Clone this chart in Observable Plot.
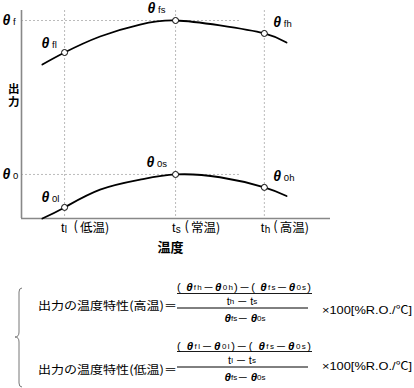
<!DOCTYPE html>
<html><head><meta charset="utf-8">
<script src="https://cdn.jsdelivr.net/npm/d3@7"></script>
<script src="https://cdn.jsdelivr.net/npm/@observablehq/plot@0.6"></script>
<style>
html,body{margin:0;padding:0;background:#fff;}
#wrap{position:relative;width:414px;height:388px;overflow:hidden;background:#fff;}
#chart{position:absolute;left:0;top:0;}
#formula{position:absolute;left:0;top:0;}
</style></head><body>
<div id="wrap"><div id="chart"></div><svg id="formula" width="414" height="388"></svg></div>
<script>
// ---- data ----
const tempValues = [-25, 25, 65];          // tl, ts, th (temperature units)
const tempSubs = ["l", "s", "h"];
const tempNames = ["低温", "常温", "高温"];
const curveX = [-35, -25, -9, 9, 25, 45, 65, 75];
const fullScaleOut = [171.4, 179.2, 189.6, 197.4, 200, 196.8, 191.6, 185.7];
const zeroOut = [71.4, 78.6, 90.1, 96.6, 100, 98.2, 91.6, 86];
const fullSubs = ["fl", "fs", "fh"];
const zeroSubs = ["0l", "0s", "0h"];
const axisSubs = ["f", "0"];
const xLabel = "温度";
const yLabel = ["出", "力"];
const formulaLabels = ["出力の温度特性(高温)＝", "出力の温度特性(低温)＝"];
const numerSubs = [["fh", "0h"], ["fl", "0l"]];
const diffSubs = ["h", "l"];
const unitText = "×100[%R.O./℃]";

// ---- build ----
const xDomain = [-44.4, 94.8];
const yDomain = [71.4, 206.5];
const upper = curveX.map((x, i) => ({x, y: fullScaleOut[i]}));
const lower = curveX.map((x, i) => ({x, y: zeroOut[i]}));
const upperPts = upper.filter(d => tempValues.includes(d.x));
const lowerPts = lower.filter(d => tempValues.includes(d.x));
const thetaY = [upperPts[1].y, lowerPts[1].y];
const LAT = "Liberation Sans, Arial, sans-serif";
const CJK = "Noto Sans CJK JP, sans-serif";

function thetaMarks(pts, subs, idx, dx, dy) {
  const d = [{...pts[idx], s: subs[idx]}];
  return [
    Plot.text(d, {x: "x", y: "y", text: () => "θ", dx, dy, textAnchor: "start",
      fontSize: 14, fontWeight: "bold", fontStyle: "italic", fontFamily: LAT, fill: "black"}),
    Plot.text(d, {x: "x", y: "y", text: "s", dx: dx + 10.5, dy: dy + 1.5, textAnchor: "start",
      fontSize: 9.5, fontFamily: LAT, fill: "black"})
  ];
}
const tickData = tempValues.map((x, i) => ({x, s: tempSubs[i], n: tempNames[i] + ")"}));
const axisTheta = thetaY.map((y, i) => ({x: xDomain[0], y, s: axisSubs[i]}));

const chart = Plot.plot({
  width: 414, height: 260,
  marginLeft: 21, marginRight: 84, marginTop: 10, marginBottom: 42,
  x: {domain: xDomain, axis: null},
  y: {domain: yDomain, axis: null},
  style: {background: "transparent"},
  marks: [
    Plot.ruleX(tempValues, {stroke: "#aaa", strokeWidth: 0.8, strokeDasharray: "2,2"}),
    Plot.ruleY(thetaY, {x1: xDomain[0], x2: 54, stroke: "#aaa", strokeWidth: 0.8, strokeDasharray: "2,2"}),
    Plot.ruleX([xDomain[0]], {stroke: "#888", strokeWidth: 1.6}),
    Plot.ruleY([yDomain[0]], {stroke: "#888", strokeWidth: 1.6}),
    Plot.line(upper, {x: "x", y: "y", curve: "natural", stroke: "black", strokeWidth: 1.8}),
    Plot.line(lower, {x: "x", y: "y", curve: "natural", stroke: "black", strokeWidth: 1.8}),
    Plot.dot(upperPts, {x: "x", y: "y", r: 3, fill: "white", stroke: "black", strokeWidth: 1}),
    Plot.dot(lowerPts, {x: "x", y: "y", r: 3, fill: "white", stroke: "black", strokeWidth: 1}),
    ...thetaMarks(upperPts, fullSubs, 0, -23, -9),
    ...thetaMarks(upperPts, fullSubs, 1, -28, -12),
    ...thetaMarks(upperPts, fullSubs, 2, 9, -11),
    ...thetaMarks(lowerPts, zeroSubs, 0, -23, -10),
    ...thetaMarks(lowerPts, zeroSubs, 1, -29, -12),
    ...thetaMarks(lowerPts, zeroSubs, 2, 9, -11),
    Plot.text(axisTheta, {x: "x", y: "y", text: () => "θ", dx: -19, dy: 0, textAnchor: "start",
      fontSize: 14, fontWeight: "bold", fontStyle: "italic", fontFamily: LAT, fill: "black"}),
    Plot.text(axisTheta, {x: "x", y: "y", text: "s", dx: -8.5, dy: 1.5, textAnchor: "start",
      fontSize: 9.5, fontFamily: LAT, fill: "black"}),
    Plot.text(tickData, {x: "x", text: () => "t", frameAnchor: "bottom", dx: -3.5, dy: 13, textAnchor: "start",
      fontSize: 13, fontFamily: LAT, fill: "black"}),
    Plot.text(tickData, {x: "x", text: "s", frameAnchor: "bottom", dx: 0.3, dy: 14.5, textAnchor: "start",
      fontSize: 10, fontFamily: LAT, fill: "black"}),
    Plot.text(tickData, {x: "x", text: () => "(", frameAnchor: "bottom", dx: 9, dy: 12.5, textAnchor: "start",
      fontSize: 13, fontFamily: CJK, fill: "black"}),
    Plot.text(tickData, {x: "x", text: "n", frameAnchor: "bottom", dx: 15.5, dy: 13, textAnchor: "start",
      fontSize: 12.5, fontFamily: CJK, fill: "black"}),
    Plot.text([xLabel], {x: () => tempValues[1], text: d => d, frameAnchor: "bottom", dx: -5, dy: 33,
      fontSize: 13, fontWeight: "bold", fontFamily: CJK, fill: "black"}),
    Plot.text([yLabel[0]], {text: d => d, frameAnchor: "left", dx: -13.5, dy: -25,
      fontSize: 11.5, fontWeight: "bold", fontFamily: CJK, fill: "black"}),
    Plot.text([yLabel[1]], {text: d => d, frameAnchor: "left", dx: -13.5, dy: -12.5,
      fontSize: 11.5, fontWeight: "bold", fontFamily: CJK, fill: "black"})
  ]
});
document.getElementById("chart").appendChild(chart);

// ---- formulas ----
const svg = d3.select("#formula");
svg.append("path")
  .attr("d", "M22,288 Q19,288 19,292 L19,332 Q19,337 15,337 Q19,337 19,342 L19,383 Q19,387 22,387")
  .attr("fill", "none").attr("stroke", "#777").attr("stroke-width", 1);

function addParts(t, parts) {
  parts.forEach(([txt, k]) => {
    const s = t.append("tspan").text(txt);
    if (k === "th") s.attr("font-weight", "bold").attr("font-style", "italic").attr("font-size", 11.5);
    else if (k === "sub") s.attr("font-size", 8);
    else if (k === "op") s.attr("font-family", CJK).attr("font-size", 11);
    else s.attr("font-size", 11);
  });
}
const layouts = [
  {label: 305, num: 287, ul: 293.5, mid: 301, line: 308, den: 318, unit: 310},
  {label: 369, num: 345.5, ul: 351.5, mid: 359.5, line: 367, den: 377, unit: 365.5}
];
layouts.forEach((L, i) => {
  svg.append("text").attr("x", 38).attr("y", L.label).attr("dominant-baseline", "central")
    .attr("font-family", CJK).attr("font-size", 11.5).attr("textLength", 139).attr("lengthAdjust", "spacingAndGlyphs")
    .text(formulaLabels[i]);
  const n = svg.append("text").attr("x", 177).attr("y", L.num).attr("dominant-baseline", "central")
    .attr("font-family", LAT).attr("textLength", 134).attr("lengthAdjust", "spacing");
  addParts(n, [["( ", "p"], ["θ", "th"], [numerSubs[i][0], "sub"], ["－", "op"], ["θ", "th"], [numerSubs[i][1], "sub"],
    [")", "p"], ["－", "op"], ["( ", "p"], ["θ", "th"], ["fs", "sub"], ["－", "op"], ["θ", "th"], ["0s", "sub"], [")", "p"]]);
  svg.append("line").attr("x1", 177).attr("x2", 312).attr("y1", L.ul).attr("y2", L.ul).attr("stroke", "black").attr("stroke-width", 0.9);
  const m = svg.append("text").attr("x", 242).attr("y", L.mid).attr("dominant-baseline", "central")
    .attr("text-anchor", "middle").attr("font-family", LAT);
  addParts(m, [["t", "p"], [diffSubs[i], "sub"], [" －  ", "op"], ["t", "p"], ["s", "sub"]]);
  svg.append("line").attr("x1", 177).attr("x2", 308).attr("y1", L.line).attr("y2", L.line).attr("stroke", "black").attr("stroke-width", 1);
  const dn = svg.append("text").attr("x", 245).attr("y", L.den).attr("dominant-baseline", "central")
    .attr("text-anchor", "middle").attr("font-family", LAT);
  addParts(dn, [["θ", "th"], ["fs", "sub"], ["－ ", "op"], ["θ", "th"], ["0s", "sub"]]);
  svg.append("text").attr("x", 322).attr("y", L.unit).attr("dominant-baseline", "central")
    .attr("font-family", LAT + ", " + CJK).attr("font-size", 11.5).attr("textLength", 90).attr("lengthAdjust", "spacingAndGlyphs")
    .text(unitText);
});
</script>
</body></html>
